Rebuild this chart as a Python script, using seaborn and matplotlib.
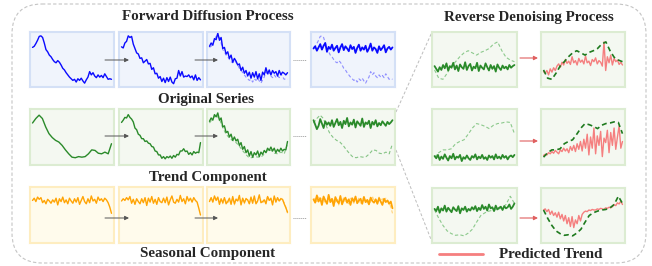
import numpy as np
import matplotlib.pyplot as plt
from matplotlib.patches import FancyBboxPatch
import seaborn as sns

sns.set_style("white")
plt.rcParams['font.family'] = ['Liberation Serif', 'DejaVu Serif']

W, H = 652, 266

# ---- series (0 = panel bottom, 1 = panel top) ----
blue_orig = [0.72, 0.74, 0.79, 0.85, 0.92, 0.93, 0.90, 0.80, 0.68, 0.64, 0.58, 0.55,
             0.50, 0.46, 0.44, 0.48, 0.45, 0.40, 0.34, 0.31, 0.26, 0.22, 0.18, 0.15,
             0.12, 0.14, 0.09, 0.15, 0.12, 0.16, 0.11, 0.07, 0.13, 0.18, 0.28, 0.22,
             0.26, 0.20, 0.17, 0.22, 0.18, 0.21, 0.17, 0.24, 0.19, 0.14, 0.15, 0.14]
blue_step1 = [0.73, 0.71, 0.80, 0.83, 0.93, 0.90, 0.92, 0.78, 0.70, 0.62, 0.60, 0.52,
              0.53, 0.44, 0.47, 0.50, 0.42, 0.43, 0.32, 0.35, 0.24, 0.25, 0.16, 0.19,
              0.10, 0.16, 0.08, 0.17, 0.10, 0.18, 0.09, 0.06, 0.15, 0.16, 0.30, 0.20,
              0.28, 0.18, 0.20, 0.19, 0.22, 0.17, 0.20, 0.13, 0.22, 0.12, 0.17, 0.13]
blue_step2 = [0.74, 0.80, 0.76, 0.88, 0.86, 0.98, 0.85, 0.90, 0.70, 0.72, 0.60, 0.64,
              0.52, 0.58, 0.45, 0.52, 0.47, 0.40, 0.42, 0.30, 0.36, 0.25, 0.30, 0.20,
              0.27, 0.16, 0.26, 0.18, 0.28, 0.15, 0.24, 0.12, 0.27, 0.22, 0.35, 0.24,
              0.31, 0.22, 0.30, 0.25, 0.28, 0.20, 0.30, 0.22, 0.27, 0.25, 0.22, 0.26]
blue_noise = [0.70, 0.74, 0.66, 0.72, 0.78, 0.68, 0.75, 0.80, 0.64, 0.73, 0.69, 0.77,
              0.66, 0.71, 0.75, 0.63, 0.72, 0.78, 0.67, 0.74, 0.70, 0.65, 0.76, 0.69,
              0.73, 0.62, 0.71, 0.77, 0.66, 0.72, 0.68, 0.75, 0.64, 0.70, 0.79, 0.66,
              0.72, 0.69, 0.62, 0.74, 0.67, 0.71, 0.76, 0.63, 0.70, 0.73, 0.68, 0.72]

green_trend = [0.75, 0.83, 0.89, 0.83, 0.68, 0.56, 0.49, 0.44, 0.41, 0.35, 0.27, 0.20, 0.14,
               0.13, 0.15, 0.14, 0.15, 0.20, 0.27, 0.26, 0.21, 0.20, 0.23, 0.20, 0.38]
green_step1 = [0.76, 0.80, 0.85, 0.84, 0.90, 0.85, 0.82, 0.77, 0.66, 0.63, 0.55, 0.53,
               0.47, 0.47, 0.42, 0.43, 0.39, 0.38, 0.33, 0.32, 0.25, 0.24, 0.18, 0.18,
               0.12, 0.15, 0.11, 0.15, 0.13, 0.16, 0.12, 0.17, 0.14, 0.19, 0.18, 0.25,
               0.25, 0.29, 0.24, 0.25, 0.19, 0.22, 0.18, 0.24, 0.21, 0.23, 0.22, 0.40]
green_step2 = [0.78, 0.84, 0.80, 0.90, 0.86, 0.93, 0.80, 0.84, 0.68, 0.70, 0.58, 0.60,
               0.50, 0.55, 0.44, 0.50, 0.43, 0.46, 0.35, 0.40, 0.28, 0.33, 0.22, 0.27,
               0.16, 0.24, 0.14, 0.22, 0.18, 0.25, 0.15, 0.23, 0.19, 0.26, 0.22, 0.30,
               0.26, 0.32, 0.25, 0.30, 0.22, 0.28, 0.24, 0.30, 0.25, 0.28, 0.27, 0.42]
green_noise = [0.80, 0.72, 0.64, 0.70, 0.82, 0.74, 0.66, 0.78, 0.72, 0.76, 0.70, 0.80,
               0.68, 0.75, 0.82, 0.71, 0.77, 0.66, 0.79, 0.73, 0.84, 0.69, 0.76, 0.72,
               0.81, 0.67, 0.78, 0.74, 0.70, 0.83, 0.68, 0.76, 0.73, 0.79, 0.66, 0.77,
               0.72, 0.80, 0.69, 0.75, 0.71, 0.78, 0.74, 0.70, 0.77, 0.73, 0.76, 0.80]

season = [0.76, 0.80, 0.74, 0.82, 0.78, 0.81, 0.72, 0.76, 0.70, 0.78, 0.75, 0.71,
          0.77, 0.73, 0.80, 0.68, 0.79, 0.74, 0.82, 0.72, 0.77, 0.70, 0.80, 0.75,
          0.71, 0.79, 0.73, 0.81, 0.69, 0.76, 0.83, 0.74, 0.70, 0.79, 0.72, 0.84,
          0.75, 0.78, 0.71, 0.82, 0.76, 0.79, 0.74, 0.80, 0.77, 0.72, 0.64, 0.53]
season_step1 = [0.75, 0.79, 0.76, 0.81, 0.77, 0.83, 0.71, 0.78, 0.69, 0.79, 0.74, 0.70,
                0.79, 0.72, 0.81, 0.67, 0.80, 0.73, 0.83, 0.71, 0.78, 0.69, 0.81, 0.74,
                0.72, 0.80, 0.72, 0.82, 0.68, 0.77, 0.84, 0.73, 0.71, 0.78, 0.73, 0.85,
                0.74, 0.79, 0.70, 0.83, 0.75, 0.80, 0.73, 0.81, 0.76, 0.73, 0.62, 0.50]
season_step2 = [0.74, 0.81, 0.73, 0.84, 0.76, 0.82, 0.69, 0.79, 0.72, 0.81, 0.70, 0.74,
                0.80, 0.69, 0.83, 0.70, 0.78, 0.75, 0.85, 0.68, 0.80, 0.72, 0.79, 0.77,
                0.70, 0.82, 0.71, 0.84, 0.70, 0.75, 0.86, 0.72, 0.74, 0.77, 0.70, 0.83,
                0.76, 0.80, 0.68, 0.84, 0.73, 0.81, 0.75, 0.79, 0.78, 0.70, 0.63, 0.55]
season_noise = [0.78, 0.72, 0.85, 0.74, 0.80, 0.68, 0.83, 0.76, 0.70, 0.86, 0.73, 0.79,
                0.66, 0.82, 0.75, 0.71, 0.84, 0.69, 0.77, 0.81, 0.72, 0.78, 0.68, 0.80,
                0.74, 0.83, 0.71, 0.76, 0.79, 0.70, 0.82, 0.73, 0.77, 0.69, 0.81, 0.75,
                0.72, 0.78, 0.70, 0.80, 0.74, 0.68, 0.79, 0.73, 0.76, 0.70, 0.74, 0.62]

# reverse process: noisy inputs, true trends, predictions
rev_noise1 = [0.38, 0.33, 0.28, 0.36, 0.31, 0.40, 0.34, 0.43, 0.30, 0.38, 0.35, 0.44,
              0.32, 0.39, 0.29, 0.41, 0.36, 0.33, 0.45, 0.31, 0.38, 0.42, 0.30, 0.37,
              0.34, 0.44, 0.29, 0.39, 0.35, 0.32, 0.43, 0.36, 0.30, 0.40, 0.33, 0.38,
              0.28, 0.41, 0.35, 0.31, 0.39, 0.34, 0.37, 0.32, 0.40, 0.35, 0.38, 0.40]
rev_noise2 = [0.16, 0.12, 0.18, 0.09, 0.15, 0.11, 0.19, 0.13, 0.08, 0.16, 0.12, 0.20,
              0.10, 0.15, 0.13, 0.18, 0.07, 0.14, 0.11, 0.17, 0.12, 0.09, 0.16, 0.13,
              0.19, 0.10, 0.15, 0.12, 0.18, 0.11, 0.14, 0.09, 0.17, 0.13, 0.16, 0.10,
              0.19, 0.12, 0.15, 0.11, 0.18, 0.13, 0.16, 0.10, 0.15, 0.17, 0.14, 0.18]
rev_noise3 = [0.62, 0.58, 0.66, 0.55, 0.63, 0.59, 0.68, 0.57, 0.64, 0.60, 0.56, 0.65,
              0.61, 0.58, 0.67, 0.54, 0.63, 0.60, 0.66, 0.57, 0.62, 0.59, 0.65, 0.61,
              0.67, 0.58, 0.64, 0.60, 0.69, 0.62, 0.66, 0.59, 0.70, 0.63, 0.65, 0.58,
              0.68, 0.61, 0.64, 0.66, 0.60, 0.67, 0.63, 0.65, 0.70, 0.62, 0.66, 0.72]
true_trend1 = [0.31, 0.16, 0.14, 0.25, 0.38, 0.46, 0.55, 0.62, 0.66, 0.62,
               0.58, 0.63, 0.66, 0.70, 0.78, 0.82, 0.66, 0.54, 0.49, 0.46]
true_trend2 = [0.14, 0.22, 0.27, 0.27, 0.29, 0.38, 0.42, 0.45, 0.55, 0.66,
               0.74, 0.72, 0.69, 0.65, 0.71, 0.74, 0.75, 0.77, 0.76, 0.56]
true_trend3 = [0.60, 0.45, 0.32, 0.22, 0.17, 0.14, 0.15, 0.13, 0.18, 0.25,
               0.38, 0.50, 0.55, 0.58, 0.60, 0.61, 0.64, 0.70, 0.85, 0.72]
pred1 = [0.28, 0.25, 0.30, 0.22, 0.33, 0.27, 0.35, 0.30, 0.38, 0.42, 0.36, 0.45,
         0.40, 0.50, 0.43, 0.47, 0.41, 0.55, 0.44, 0.48, 0.40, 0.52, 0.45, 0.49,
         0.42, 0.56, 0.44, 0.47, 0.39, 0.50, 0.46, 0.53, 0.42, 0.48, 0.45, 0.38,
         0.82, 0.30, 0.55, 0.44, 0.58, 0.40, 0.52, 0.46, 0.49, 0.41, 0.45, 0.40]
pred2 = [0.17, 0.19, 0.18, 0.22, 0.20, 0.24, 0.21, 0.26, 0.23, 0.20, 0.27, 0.24,
         0.30, 0.25, 0.29, 0.22, 0.33, 0.26, 0.35, 0.24, 0.38, 0.28, 0.42, 0.25,
         0.46, 0.30, 0.55, 0.18, 0.50, 0.30, 0.66, 0.20, 0.52, 0.35, 0.60, 0.15,
         0.48, 0.40, 0.62, 0.22, 0.58, 0.35, 0.66, 0.28, 0.50, 0.70, 0.30, 0.42]
pred3 = [0.60, 0.62, 0.57, 0.61, 0.52, 0.58, 0.50, 0.55, 0.47, 0.56, 0.44, 0.52,
         0.40, 0.50, 0.35, 0.46, 0.30, 0.48, 0.28, 0.42, 0.35, 0.50, 0.40, 0.52,
         0.56, 0.58, 0.57, 0.60, 0.59, 0.61, 0.60, 0.60, 0.62, 0.61, 0.63, 0.62,
         0.61, 0.64, 0.63, 0.65, 0.64, 0.66, 0.70, 0.68, 0.73, 0.71, 0.76, 0.70]

titles = ["Forward Diffusion Process", "Original Series", "Trend Component",
          "Seasonal Component", "Reverse Denoising Process"]
legend_label = "Predicted Trend"

# colours
BLUE, GREEN, ORANGE, RED = "#0a0aff", "#2a8a2a", "#ffa405", "#f57f7f"
FACES = {"b": ("#f0f4fc", "#d4e0f6"), "g": ("#f4f8f1", "#dcecd2"), "y": ("#fffbec", "#feedc0")}

fig = plt.figure(figsize=(W / 100, H / 100), dpi=100)

# background layer in pixel units
bg = fig.add_axes([0, 0, 1, 1])
bg.set_xlim(0, W)
bg.set_ylim(H, 0)
bg.axis("off")

bg.add_patch(FancyBboxPatch((12, 4), 634, 259, boxstyle="round,pad=0,rounding_size=30",
                            fill=False, ec="#c4c4c4", lw=0.8, ls=(0, (3, 2))))

fs = 10.8
bg.text(208, 17, titles[0], ha="center", va="center", fontsize=fs, fontweight="bold")
bg.text(206, 99, titles[1], ha="center", va="center", fontsize=fs, fontweight="bold")
bg.text(208, 177, titles[2], ha="center", va="center", fontsize=fs, fontweight="bold")
bg.text(208, 254, titles[3], ha="center", va="center", fontsize=fs, fontweight="bold")
bg.text(529, 17, titles[4], ha="center", va="center", fontsize=fs, fontweight="bold")
bg.text(551, 254, legend_label, ha="center", va="center", fontsize=fs, fontweight="bold")
bg.plot([439, 483], [254, 254], color=RED, lw=2)

# connectors from the last trend panel to the reverse process
bg.plot([396, 432], [112, 32], color="#bdbdbd", lw=0.7, ls=(0, (3, 2)))
bg.plot([396, 432], [150, 242], color="#bdbdbd", lw=0.7, ls=(0, (3, 2)))


def panel(x0, y0, x1, y1, kind):
    ax = fig.add_axes([x0 / W, 1 - y1 / H, (x1 - x0) / W, (y1 - y0) / H])
    face, edge = FACES[kind]
    ax.set_facecolor(face)
    for s in ax.spines.values():
        s.set_color(edge)
        s.set_linewidth(1.5)
    return ax


def draw(ax, vals, color, lw=1.0, ls="-", alpha=1.0):
    x = np.linspace(0, 47, len(vals))
    sns.lineplot(x=x, y=vals, ax=ax, color=color, linewidth=lw, linestyle=ls, alpha=alpha)


def finish(ax):
    ax.set_xlim(-1.5, 48.5)
    ax.set_ylim(0, 1)
    ax.set_xticks([])
    ax.set_yticks([])
    ax.set_xlabel("")
    ax.set_ylabel("")


cols = [(30, 114), (119, 203), (207, 290), (311, 395)]
rows = [(32, 87), (109, 165), (187, 243)]

forward = [
    ("b", BLUE, "#8f8fff", [blue_orig, blue_step1, blue_step2, blue_noise], blue_orig),
    ("g", GREEN, "#86c486", [green_trend, green_step1, green_step2, green_noise], green_trend),
    ("y", ORANGE, "#ffd27a", [season, season_step1, season_step2, season_noise], season),
]

for (y0, y1), (kind, col, faint, series, clean) in zip(rows, forward):
    for j, (x0, x1) in enumerate(cols):
        ax = panel(x0, y0, x1, y1, kind)
        if j >= 2:
            draw(ax, clean, faint, lw=0.8, ls=(0, (3, 2)))
        draw(ax, series[j], col, lw=1.3 if j == 3 else 1.0)
        finish(ax)

# reverse denoising panels
rrows = [(32, 87), (109, 165), (188, 243)]
rev = [(rev_noise1, true_trend1, pred1), (rev_noise2, true_trend2, pred2),
       (rev_noise3, true_trend3, pred3)]
for (y0, y1), (noisy, trend, pred) in zip(rrows, rev):
    ax = panel(432, y0, 517, y1, "g")
    draw(ax, trend, "#8cc98c", lw=0.8, ls=(0, (3, 2)))
    draw(ax, noisy, GREEN, lw=1.3)
    finish(ax)
    ax = panel(541, y0, 625, y1, "g")
    draw(ax, pred, RED, lw=1.0)
    draw(ax, trend, "#1e7a1e", lw=1.2, ls=(0, (3, 2)))
    finish(ax)

# arrows on top of everything
top = fig.add_axes([0, 0, 1, 1], zorder=10)
top.patch.set_alpha(0)
top.set_xlim(0, W)
top.set_ylim(H, 0)
top.axis("off")

for yy in [60, 136, 218]:
    for xa, xb in [(105, 129), (195, 218)]:
        top.annotate("", xy=(xb, yy), xytext=(xa, yy),
                     arrowprops=dict(arrowstyle="-|>", color="#555555", lw=0.7,
                                     mutation_scale=6, shrinkA=0, shrinkB=0))
    top.plot([293, 306], [yy, yy], color="#999999", lw=0.7, ls=(0, (1, 1)))

for yy in [58, 141, 218]:
    top.annotate("", xy=(538, yy), xytext=(520, yy),
                 arrowprops=dict(arrowstyle="-|>", color="#e06060", lw=0.8,
                                 mutation_scale=6, shrinkA=0, shrinkB=0))

fig.savefig("out.png", dpi=100)
